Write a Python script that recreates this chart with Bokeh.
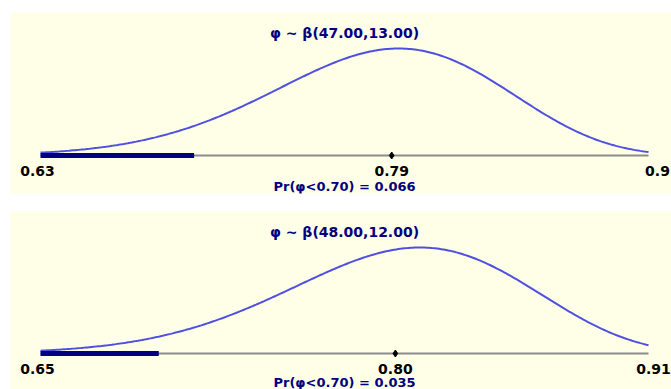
import math
import numpy as np
from bokeh.plotting import figure
from bokeh.layouts import column
from bokeh.models import Range1d
from bokeh.core.properties import value
from bokeh.embed import file_html
from bokeh.resources import INLINE

# ---- data ----
alpha = [47.0, 48.0]
beta_b = [13.0, 12.0]
x_min = [0.63, 0.65]
x_max = [0.907, 0.907]
x_mid = [0.79, 0.80]
tick_labels = [["0.63", "0.79", "0.9"], ["0.65", "0.80", "0.91"]]
threshold = [0.70, 0.70]
prob = [0.066, 0.035]
titles = ["\u03c6 ~ \u03b2(47.00,13.00)", "\u03c6 ~ \u03b2(48.00,12.00)"]
prob_labels = ["Pr(\u03c6<0.70) = 0.066", "Pr(\u03c6<0.70) = 0.035"]

BG = "#FFFFE8"
CURVE = "#5050E0"
NAVY = "#000080"
AXIS = "#8C8C8C"
FONT = value("DejaVu Sans")

# layout (pixels)
FRAME_W = 661
AX_LEFT = 30      # frame px where x_min sits
AX_LEN = 608      # px length of axis
panel_cfg = [
    dict(height=207, top=12, bottom=14, frame_h=181, axis_from_bottom=38, peak_px=107, pr_px=31),
    dict(height=182, top=4, bottom=0, frame_h=178, axis_from_bottom=36, peak_px=106, pr_px=29),
]
right_off = [9, 5]


def make_panel(i):
    cfg = panel_cfg[i]
    a, b = alpha[i], beta_b[i]
    lo, hi = x_min[i], x_max[i]
    R = hi - lo
    xr = Range1d(lo - AX_LEFT / AX_LEN * R, lo + (FRAME_W - AX_LEFT) / AX_LEN * R)
    pk = cfg["peak_px"]
    yr = Range1d(-cfg["axis_from_bottom"] / pk,
                 (cfg["frame_h"] - cfg["axis_from_bottom"]) / pk)

    p = figure(width=671, height=cfg["height"], x_range=xr, y_range=yr,
               output_backend="svg", toolbar_location=None,
               x_axis_location=None, y_axis_location=None,
               min_border_left=10, min_border_right=0,
               min_border_top=cfg["top"], min_border_bottom=cfg["bottom"],
               background_fill_color=BG, border_fill_color="white",
               outline_line_color=None)
    p.xgrid.visible = False
    p.ygrid.visible = False

    # beta density over the axis range, scaled to its peak
    xs = np.linspace(lo, hi, 300)
    logf = (a - 1) * np.log(xs) + (b - 1) * np.log(1 - xs)
    mode = (a - 1) / (a + b - 2)
    logm = (a - 1) * math.log(mode) + (b - 1) * math.log(1 - mode)
    ys = np.exp(logf - logm)

    # axis line
    p.segment(x0=[lo], y0=[0], x1=[hi], y1=[0], line_color=AXIS, line_width=2)
    # curve
    p.line(xs, ys, line_color=CURVE, line_width=2)
    # probability region bar
    p.segment(x0=[lo], y0=[0], x1=[threshold[i]], y1=[0], line_color=NAVY,
              line_width=5, line_cap="butt")
    # middle tick
    p.scatter(x=[x_mid[i]], y=[0], marker="diamond", size=7, color="black")

    # tick labels
    ty = -15 / pk
    labs = tick_labels[i]
    common = dict(text_font=FONT, text_font_style="bold", text_font_size="14px",
                  text_baseline="middle")
    p.text(x=[lo], y=[ty], text=[labs[0]], x_offset=-3, text_align="center",
           text_color="black", **common)
    p.text(x=[x_mid[i]], y=[ty], text=[labs[1]], text_align="center",
           text_color="black", **common)
    p.text(x=[hi], y=[ty], text=[labs[2]], x_offset=right_off[i], text_align="center",
           text_color="black", **common)

    cx = (lo + hi) / 2
    p.text(x=[cx], y=[1 + 16 / pk], text=[titles[i]], text_align="center",
           text_color=NAVY, **common)
    p.text(x=[cx], y=[-cfg["pr_px"] / pk], text=[prob_labels[i]], text_font=FONT,
           text_font_style="bold", text_font_size="13px", text_align="center",
           text_baseline="middle", text_color=NAVY)
    return p


p = column(make_panel(0), make_panel(1), spacing=0)
open("out.html", "w").write(file_html(p, INLINE))
